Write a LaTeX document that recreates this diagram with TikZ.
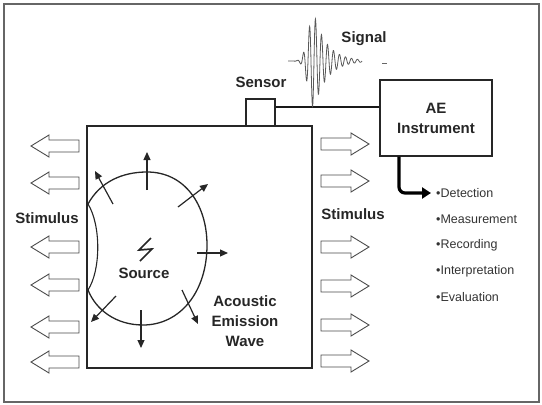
\documentclass[tikz,border=0pt]{standalone}
\usepackage{fontspec}
\setmainfont{Liberation Sans}
\usetikzlibrary{arrows.meta,calc}
\begin{document}
\begin{tikzpicture}[x=1pt,y=-1pt,
  lbl/.style={font=\fontsize{15}{20}\selectfont\bfseries, text=black!85, align=center, inner sep=0pt},
  item/.style={font=\fontsize{12.5}{14}\selectfont, text=black!80, anchor=west, inner sep=0pt},
  boxline/.style={draw=black!85, line width=1.6pt},
  ray/.style={draw=black!85, line width=1.2pt, -{Triangle[length=8pt,width=7pt]}},
  hollow/.style={draw=black!70, line width=0.9pt, fill=white, line join=miter},
  leftarrow/.pic={\path[hollow] (0,0) -- (18,-11) -- (18,-6) -- (48,-6) -- (48,6) -- (18,6) -- (18,11) -- cycle;},
  rightarrow/.pic={\path[hollow] (0,0) -- (-18,-11) -- (-18,-6) -- (-48,-6) -- (-48,6) -- (-18,6) -- (-18,11) -- cycle;}
]
\useasboundingbox (0,0) rectangle (542,405);
\draw[draw=black!60, line width=1.3pt] (4,4) rectangle (539,402);

% specimen body and sensor
\node[boxline, minimum width=225pt, minimum height=242pt, inner sep=0pt] (body) at (199.5,247) {};
\node[boxline, fill=white, minimum width=29pt, minimum height=27pt, inner sep=0pt] (sensor) at (260.5,112.5) {};
\node[lbl] (sensorlbl) at (261,82) {Sensor};

% AE instrument
\node[draw=black!85, line width=1.4pt, minimum width=112pt, minimum height=76pt, lbl] (ae) at (436,118) {AE\\Instrument};
\coordinate (wy) at (0,107);
\draw[line width=2.2pt, black!90] (sensor.east |- wy) -- (ae.west |- wy);

% signal
\draw[black!65, line width=0.8pt] plot[variable=\t, domain=-26:0, samples=120, smooth] ({314+\t}, {61 - 47*exp(-(\t/8)*(\t/8))*sin(60*\t)});
\draw[black!65, line width=0.8pt] plot[variable=\t, domain=0:48, samples=200, smooth] ({314+\t}, {61 - 47*exp(-\t/13)*sin(60*\t)});
\node[lbl] (signallbl) at (364,39) {Signal};
\draw[black!60, line width=1pt] (382,63) -- (387,63);

% outputs
\node[item] (l1) at (436,193) {•Detection};
\node[item] (l2) at (436,219) {•Measurement};
\node[item] (l3) at (436,245) {•Recording};
\node[item] (l4) at (436,271) {•Interpretation};
\node[item] (l5) at (436,297) {•Evaluation};
\coordinate (ax) at (399,0);
\draw[line width=3.2pt, rounded corners=6pt, -{Triangle[length=9pt,width=11pt]}] (ae.south -| ax) |- ([xshift=-5pt]l1.west);

% wave front
\draw[line width=1.3pt, black!85] (88,204) .. controls (100,182) and (122,172) .. (147,172) .. controls (185,172) and (207,205) .. (207,245) .. controls (207,292) and (180,325) .. (143,325) .. controls (116,325) and (96,310) .. (88,290);
\draw[line width=1.1pt, black!85] (88,204) .. controls (101,225) and (101,270) .. (88,290);
\draw[ray] (147,190) -- (147,152);
\draw[ray] (113,204) -- (95,171);
\draw[ray] (178,207) -- (208,184);
\draw[ray] (197,253) -- (228,253);
\draw[ray] (182,290) -- (198,324);
\draw[ray] (116,296) -- (91,322);
\draw[ray] (141,310) -- (141,348);

% source
\draw[line width=1.7pt, black!85] (151,238) -- (139,250) -- (152,249) -- (140,261);
\node[lbl] (source) at (144,273) {Source};
\node[lbl] (aew) at (245,321) {Acoustic\\Emission\\Wave};

% stimulus
\node[lbl] (stimL) at (47,218) {Stimulus};
\node[lbl] (stimR) at (353,214) {Stimulus};
\foreach \y in {146,183,247,285,327,362} \pic at (31,\y) {leftarrow};
\foreach \y in {144,181,247,286,325,361} \pic at (369,\y) {rightarrow};
\end{tikzpicture}
\end{document}
